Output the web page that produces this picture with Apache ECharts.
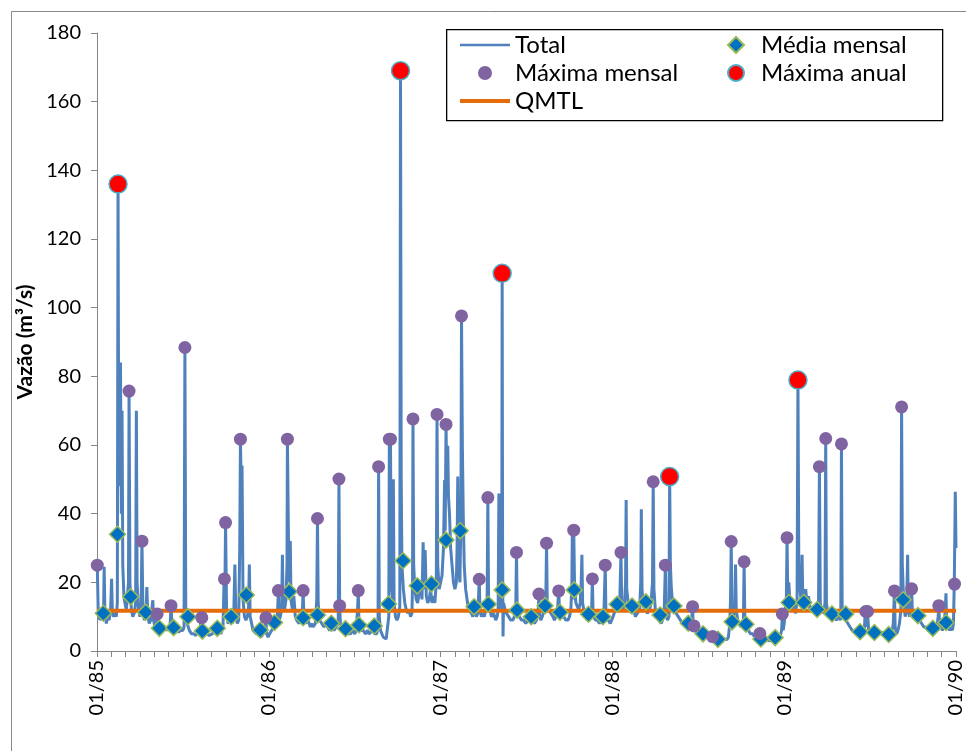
<!DOCTYPE html>
<html>
<head>
<meta charset="utf-8">
<script src="https://cdn.jsdelivr.net/npm/echarts@6/dist/echarts.min.js"></script>
<style>
html,body{margin:0;padding:0;background:#fff;}
#chart{width:966px;height:751px;}
</style>
</head>
<body>
<div id="chart"></div>
<script>
// x values are months since 01/1985
const tickLabels = ['01/85','01/86','01/87','01/88','01/89','01/90'];

const totalSeries = [
[0,24],[0.02,25],[0.08,12],[0.2,9],[0.3,10],[0.45,9],[0.5,24.5],[0.55,12],[0.65,8],[0.75,10],[0.85,9],[0.95,12],[1.02,21],[1.07,12],[1.15,10],
[1.25,11],[1.35,10],[1.42,14],[1.47,136],[1.52,48],[1.58,70],[1.64,84],[1.7,40],[1.75,70],[1.8,25],[1.88,16],[1.95,14],
[2.05,12],[2.15,12],[2.2,20],[2.24,75.7],[2.3,20],[2.4,12],[2.5,10],[2.6,11],[2.7,14],[2.75,70],[2.8,20],[2.9,12],
[3.0,10],[3.08,12],[3.14,32],[3.2,14],[3.3,9],[3.42,10],[3.48,18.6],[3.55,10],[3.65,8],[3.75,9],[3.85,9],[3.9,14.8],[3.95,9],
[4.05,7],[4.15,8],[4.2,10.8],[4.3,6],[4.45,7],[4.6,6],[4.75,7],[4.9,6],
[5.0,6],[5.1,7],[5.17,13.2],[5.25,7],[5.4,6],[5.55,6],[5.7,5.5],[5.85,6],[6.0,6],[6.08,7],
[6.14,88.4],[6.2,12],[6.3,8],[6.45,6],[6.6,5],[6.75,5],[6.9,4.5],[7.0,5],
[7.1,6],[7.2,7],[7.32,9.7],[7.4,6],[7.55,5],[7.7,5],[7.85,4.5],[7.95,5],
[8.05,5],[8.2,6],[8.35,5],[8.5,6],[8.65,5],[8.8,7],[8.88,21],[8.92,12],[8.98,37.4],[9.05,12],[9.15,8],
[9.3,9],[9.45,8],[9.55,10],[9.63,25.2],[9.7,10],[9.8,8],[9.9,9],[9.97,30],[10.02,61.7],[10.1,40],[10.13,54],[10.2,15],[10.3,10],
[10.4,9],[10.5,10],[10.58,12],[10.64,25.2],[10.7,10],[10.8,8],[10.9,6],[11.0,6],
[11.15,5],[11.3,5],[11.45,4],[11.6,5],[11.75,6],[11.8,9.7],[11.85,5],[11.95,4],
[12.05,5],[12.2,6],[12.35,7],[12.5,8],[12.6,10],[12.67,17.6],[12.72,9],[12.8,10],[12.9,12],[12.95,28],[13.0,14],
[13.1,12],[13.2,15],[13.27,25],[13.3,61.7],[13.38,30],[13.45,20],[13.5,32],[13.55,15],[13.65,12],[13.75,16],[13.85,10],[13.95,9],
[14.1,8],[14.25,9],[14.35,12],[14.4,17.6],[14.45,10],[14.6,8],[14.75,9],[14.9,7],[15.0,8],
[15.1,7],[15.25,8],[15.35,15],[15.4,38.6],[15.45,14],[15.55,9],[15.7,8],[15.85,7],[16.0,8],
[16.1,7],[16.25,6],[16.4,7],[16.55,6],[16.7,7],[16.85,8],[16.9,50.1],[16.95,13.2],[17.0,8],
[17.1,7],[17.25,6],[17.4,6],[17.55,5],[17.7,5],[17.85,6],[18.0,5],
[18.1,6],[18.2,12],[18.25,17.6],[18.3,8],[18.45,6],[18.6,6],[18.75,5],[18.9,6],[19.0,5],
[19.1,5],[19.25,6],[19.4,5],[19.55,5],[19.63,8],[19.67,53.7],[19.72,10],[19.8,6],[19.9,5],[20.0,4],
[20.1,4],[20.2,3.5],[20.3,3.5],[20.38,10],[20.42,61.7],[20.46,30],[20.5,61.7],[20.55,20],[20.65,15],[20.7,50],[20.75,14],[20.85,10],[20.95,9],
[21.05,10],[21.15,13],[21.2,169],[21.25,50],[21.3,25],[21.4,18],[21.5,14],[21.6,12],[21.7,11],[21.8,12],[21.9,10],[22.0,11],
[22.04,20],[22.07,67.6],[22.12,25],[22.2,18],[22.3,15],[22.4,14],[22.5,14],[22.6,20],[22.7,15],[22.78,31.7],[22.85,18],[22.92,29.4],[23.0,16],
[23.1,14],[23.2,15],[23.3,18],[23.4,14],[23.5,16],[23.6,14],[23.7,20],[23.75,68.9],[23.8,25],[23.9,18],[24.0,20],
[24.1,22],[24.2,30],[24.28,49.8],[24.32,35],[24.38,66],[24.44,45],[24.5,59.8],[24.55,45],[24.62,40],[24.7,30],[24.8,25],[24.9,20],[25.0,18],
[25.1,20],[25.15,30],[25.2,50.8],[25.25,25],[25.35,20],[25.42,40],[25.46,97.6],[25.52,60],[25.58,40],[25.65,25],[25.75,18],[25.85,15],[25.95,12],
[26.05,12],[26.15,11],[26.25,10],[26.4,12],[26.5,10],[26.6,11],[26.7,20.9],[26.75,12],[26.85,10],[26.95,11],
[27.05,10],[27.15,12],[27.25,15],[27.3,44.7],[27.35,15],[27.45,12],[27.55,10],[27.7,11],[27.85,9],[27.95,10],
[28.02,12],[28.07,45.9],[28.12,15],[28.2,12],[28.27,15],[28.3,110],[28.33,30],[28.36,4.2],[28.4,14],[28.5,12],[28.6,11],[28.75,10],[28.9,9],
[29.05,9],[29.15,10],[29.25,12],[29.3,28.7],[29.35,12],[29.5,10],[29.65,9],[29.8,9],[29.95,8],
[30.1,9],[30.25,10],[30.4,9],[30.55,8],[30.7,9],[30.82,12],[30.87,16.6],[30.92,10],[31.0,9],
[31.1,10],[31.25,12],[31.35,15],[31.4,31.4],[31.45,14],[31.55,12],[31.7,11],[31.85,10],[31.95,9],
[32.05,10],[32.15,11],[32.25,17.5],[32.3,12],[32.45,10],[32.6,10],[32.75,9],[32.9,9],[33.0,10],
[33.1,12],[33.17,20],[33.2,35],[33.24,15],[33.3,35.2],[33.36,18],[33.45,14],[33.55,13],[33.65,12],[33.75,14],[33.82,20],[33.87,28],[33.92,14],[34.0,12],
[34.1,10],[34.25,9],[34.4,10],[34.55,12],[34.6,21],[34.65,11],[34.8,9],[34.95,9],
[35.1,8],[35.25,9],[35.4,10],[35.5,25],[35.55,10],[35.7,9],[35.85,8],[35.95,9],
[36.05,10],[36.2,12],[36.35,14],[36.5,12],[36.6,28.7],[36.65,14],[36.75,12],[36.85,14],[36.92,20],[36.96,44],[37.0,18],
[37.1,14],[37.2,12],[37.35,11],[37.5,12],[37.6,10],[37.75,11],[37.9,12],[37.98,20],[38.02,41.3],[38.07,18],
[38.15,13],[38.3,12],[38.45,11],[38.6,12],[38.7,14],[38.8,20],[38.85,49.3],[38.9,18],[39.0,12],
[39.1,10],[39.25,9],[39.4,8],[39.5,9],[39.62,12],[39.7,25],[39.75,11],[39.85,9],[39.95,10],
[40.0,50.8],[40.05,25],[40.12,18],[40.2,14],[40.3,12],[40.45,11],[40.6,10],[40.75,9],[40.9,8],
[41.05,8],[41.2,9],[41.35,8],[41.45,7],[41.55,10],[41.6,12.9],[41.65,7],[41.7,7.3],[41.8,6],[41.95,5],
[42.1,5],[42.25,5],[42.4,4.5],[42.55,5],[42.7,4],[42.85,4.5],[43.0,4.2],
[43.1,3.5],[43.25,3.2],[43.4,3],[43.55,3.2],[43.7,3],[43.85,3.5],[44.0,3.3],
[44.1,4],[44.2,8],[44.25,15],[44.3,31.9],[44.35,12],[44.45,10],[44.55,12],[44.6,25.2],[44.65,12],[44.75,9],[44.85,8],[44.95,7],
[45.05,7],[45.15,9],[45.2,26],[45.25,9],[45.35,7],[45.5,6],[45.65,5],[45.8,5],[45.95,4],
[46.1,4],[46.25,4],[46.3,5.1],[46.4,3.5],[46.55,3],[46.7,3],[46.85,3.2],[47.0,3],
[47.1,3],[47.25,3.2],[47.4,3.5],[47.55,3.5],[47.7,4],[47.82,6],[47.87,10.8],[47.93,6],[48.0,8],
[48.07,12],[48.15,15],[48.2,33],[48.25,15],[48.32,20],[48.4,14],[48.5,12],[48.6,15],[48.7,12],[48.8,11],[48.9,15],[48.96,78.9],[49.02,25],
[49.1,18],[49.18,15],[49.25,28],[49.3,14],[49.4,12],[49.5,18],[49.6,14],[49.7,16],[49.8,12],[49.9,13],
[50.05,12],[50.15,11],[50.3,12],[50.4,15],[50.46,53.7],[50.52,14],[50.6,12],[50.75,11],[50.85,14],[50.9,61.9],[50.95,14],[51.05,11],
[51.2,10],[51.35,11],[51.5,10],[51.65,9],[51.8,10],[51.95,9],
[52.0,60.3],[52.05,12],[52.15,10],[52.3,9],[52.45,8],[52.6,7],[52.75,6],[52.9,6],
[53.05,6],[53.2,5],[53.35,5],[53.5,5],[53.6,6],[53.65,11],[53.7,11.5],[53.75,7],[53.82,11.5],[53.9,6],[54.0,5],
[54.15,5],[54.3,5],[54.45,6],[54.6,5],[54.75,5],[54.9,5.5],
[55.05,5],[55.2,4.5],[55.35,4.5],[55.5,5],[55.62,8],[55.7,17.5],[55.75,7],[55.85,5],[55.95,6],
[56.05,8],[56.15,12],[56.2,71.1],[56.25,25],[56.35,14],[56.45,10],[56.55,12],[56.62,28],[56.67,12],[56.75,10],[56.85,12],[56.9,18.1],[56.95,12],
[57.05,10],[57.15,11],[57.3,10],[57.45,9],[57.6,8],[57.75,7],[57.9,7],
[58.05,6],[58.2,6],[58.35,5.5],[58.5,6],[58.65,6],[58.75,10],[58.8,13.2],[58.85,8],[58.95,7],
[59.05,6],[59.15,7],[59.25,12],[59.3,16.8],[59.35,8],[59.45,7],[59.55,6],[59.65,7],[59.75,6],[59.82,8],[59.88,19.5],[59.95,46.4],[60.0,30]
];

const mediaMensal = [
[0.44,11.0],[1.43,34],[2.35,15.8],[3.4,11.3],[4.36,6.6],[5.35,6.8],[6.35,10],[7.36,5.8],[8.4,6.6],[9.37,10],[10.43,16.3],[11.4,6.1],
[12.4,8.3],[13.43,17.3],[14.4,9.7],[15.4,10.5],[16.37,8.1],[17.36,6.5],[18.3,7.6],[19.37,7.3],[20.36,13.7],[21.38,26.3],[22.37,19],[23.36,19.5],
[24.38,32.3],[25.37,35],[26.34,12.9],[27.33,13.6],[28.3,17.8],[29.34,11.9],[30.33,10],[31.3,13.2],[32.34,11.3],[33.33,17.8],[34.33,10.7],[35.34,10],
[36.33,13.6],[37.37,13.1],[38.34,14.3],[39.33,10.5],[40.3,13.1],[41.3,8.1],[42.33,5],[43.37,3.4],[44.36,8.5],[45.33,7.8],[46.37,3.5],[47.37,3.9],
[48.34,14.1],[49.37,14.1],[50.3,12.1],[51.34,10.8],[52.3,10.8],[53.3,5.6],[54.3,5.4],[55.3,4.8],[56.3,14.9],[57.34,10.3],[58.38,6.6],[59.3,8.3]
];

const maximaMensal = [
[0.02,25],[1.47,136],[2.24,75.7],[3.14,32],[4.2,10.8],[5.17,13.2],[6.14,88.4],[7.32,9.7],[8.9,21],[8.98,37.4],[10.02,61.7],[11.8,9.7],
[12.67,17.6],[13.3,61.7],[14.4,17.6],[15.4,38.6],[16.9,50.1],[16.95,13.2],[18.25,17.6],[19.67,53.7],[20.42,61.7],[20.5,61.7],[21.2,169],[22.07,67.6],[23.75,68.9],
[24.38,66],[25.46,97.6],[26.7,20.9],[27.3,44.7],[28.3,110],[29.3,28.7],[30.87,16.6],[31.4,31.4],[32.25,17.5],[33.3,35.2],[34.6,21],[35.5,25],
[36.6,28.7],[38.85,49.3],[39.7,25],[40.0,50.8],[41.6,12.9],[41.7,7.3],[43.0,4.2],[44.3,31.9],[45.2,26],[46.3,5.1],[47.87,10.8],
[48.2,33],[48.96,78.9],[50.46,53.7],[50.9,61.9],[52.0,60.3],[53.7,11.5],[53.82,11.5],[55.7,17.5],[56.2,71.1],[56.9,18.1],[58.8,13.2],[59.9,19.5]
];

const maximaAnual = [[1.47,136],[21.2,169],[28.3,110],[40.0,50.8],[48.96,78.9]];

const qmtlValue = 11.7;
const qmtlRange = [0, 60];

const FONT = 'Lato';
const chart = echarts.init(document.getElementById('chart'), null, {renderer: 'canvas'});
chart.setOption({
  animation: false,
  backgroundColor: '#ffffff',
  textStyle: {fontFamily: FONT, color: '#000'},
  grid: {left: 97, right: 4, top: 33, bottom: 100, containLabel: false},
  graphic: [
    {type: 'rect', left: 9, top: 9, z: -10, silent: true,
     shape: {x: 0, y: 0, width: 1200, height: 1200},
     style: {fill: 'none', stroke: '#888888', lineWidth: 1}},
    {type: 'rect', left: 446, top: 29, z: 100, silent: true,
     shape: {x: 0, y: 0, width: 496, height: 91},
     style: {fill: '#ffffff', stroke: '#000000', lineWidth: 1.3}}
  ],
  legend: [
    {data: [
        {name: 'Total', icon: 'path://M0,0 L50,0 L50,2.6 L0,2.6 Z'},
        {name: 'Máxima mensal'},
        {name: 'QMTL', icon: 'path://M0,0 L50,0 L50,4 L0,4 Z'}
      ],
     orient: 'vertical', left: 455, top: 28,
     itemWidth: 50, itemHeight: 14, itemGap: 4, z: 110, symbolKeepAspect: true,
     textStyle: {fontFamily: FONT, fontSize: 24, color: '#000'}},
    {data: [
        {name: 'Média mensal', icon: 'path://M8,0 L16,8 L8,16 L0,8 Z'},
        {name: 'Máxima anual'}
      ],
     orient: 'vertical', left: 722, top: 28,
     itemWidth: 40, itemHeight: 16, itemGap: 4, z: 110, symbolKeepAspect: true,
     textStyle: {fontFamily: FONT, fontSize: 24, color: '#000'}}
  ],
  xAxis: {
    type: 'value', min: 0, max: 60, interval: 12,
    axisLine: {show: true, lineStyle: {color: '#868686', width: 1}},
    axisTick: {show: true, length: 6, lineStyle: {color: '#868686'}},
    minorTick: {show: true, splitNumber: 12, length: 6, lineStyle: {color: '#868686'}},
    splitLine: {show: false},
    minorSplitLine: {show: false},
    axisLabel: {rotate: 90, margin: 9, fontSize: 20, color: '#000', fontFamily: FONT,
      formatter: v => tickLabels[Math.round(v / 12)]}
  },
  yAxis: {
    type: 'value', min: 0, max: 180, interval: 20,
    name: 'Vazão (m³/s)', nameLocation: 'middle', nameGap: 57,
    nameTextStyle: {fontFamily: FONT, fontSize: 21, fontWeight: 'bold', color: '#000'},
    axisLine: {show: true, lineStyle: {color: '#868686', width: 1}},
    axisTick: {show: true, length: 6, lineStyle: {color: '#868686'}},
    splitLine: {show: false},
    axisLabel: {margin: 16, fontSize: 20, color: '#000', fontFamily: FONT}
  },
  series: [
    {name: 'Total', type: 'line', data: totalSeries, showSymbol: false, symbol: 'none',
     sampling: null, z: 1,
     lineStyle: {color: '#4F81BD', width: 3}, itemStyle: {color: '#4F81BD'}},
    {name: 'QMTL', type: 'line', data: qmtlRange.map(x => [x, qmtlValue]), showSymbol: false, symbol: 'none', z: 2,
     lineStyle: {color: '#E46C0A', width: 4}, itemStyle: {color: '#E46C0A'}},
    {name: 'Média mensal', type: 'scatter', data: mediaMensal, symbol: 'diamond', symbolSize: 16,
     symbolKeepAspect: true, z: 3,
     itemStyle: {color: '#0070C0', borderColor: '#9BBB59', borderWidth: 1.5, opacity: 1}},
    {name: 'Máxima mensal', type: 'scatter', data: maximaMensal, symbol: 'circle', symbolSize: 13, z: 4,
     itemStyle: {color: '#8064A2', opacity: 1}},
    {name: 'Máxima anual', type: 'scatter', data: maximaAnual, symbol: 'circle', symbolSize: 18, z: 5,
     itemStyle: {color: '#FF0000', borderColor: '#4BACC6', borderWidth: 1.5, opacity: 1}}
  ]
});
</script>
</body>
</html>
